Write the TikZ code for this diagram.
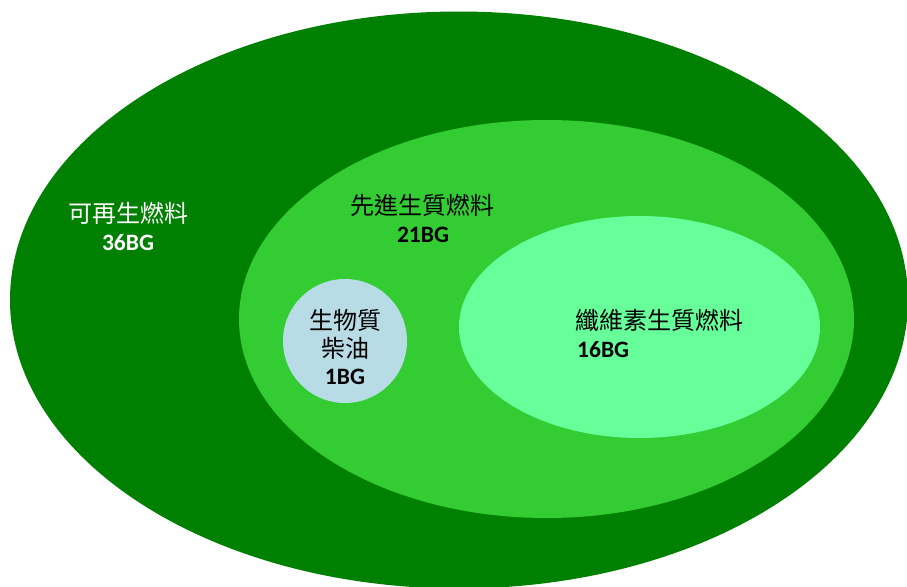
\documentclass[tikz,border=0pt]{standalone}
\usepackage{fontspec}
\usetikzlibrary{shapes.geometric}
\newfontfamily\cjk{Noto Sans CJK TC}
\newfontfamily\numf{Carlito}
\definecolor{darkg}{HTML}{008000}
\definecolor{midg}{HTML}{33CC33}
\definecolor{lightg}{HTML}{66FF99}
\definecolor{lblue}{HTML}{B8DCE6}
\tikzset{
  blob/.style={ellipse, inner sep=0pt, draw=none},
  cjklbl/.style={font=\cjk\fontsize{24}{28}\selectfont, inner sep=0pt},
  numlbl/.style={font=\numf\bfseries\fontsize{23.5}{26}\selectfont, inner sep=0pt},
}
\begin{document}
\begin{tikzpicture}[x=1pt,y=-1pt]
\useasboundingbox (0,0) rectangle (907,586);
\clip (0,0) rectangle (907,586);
\node[blob, fill=darkg, minimum width=898pt, minimum height=577pt] (outer) at (459,300) {};
\node[blob, fill=midg, minimum width=615pt, minimum height=398pt] (mid) at (546.5,319) {};
\node[blob, fill=lightg, minimum width=361pt, minimum height=222pt] (cell) at (639.5,327) {};
\node[blob, fill=lblue, minimum width=124pt, minimum height=124pt] (bio) at (345,341) {};

\node[cjklbl, text=white] (t1) at (128,213) {可再生燃料};
\node[numlbl, text=white] (n1) at (128,243) {36BG};
\node[cjklbl, text=black] (t2) at (422,205) {先進生質燃料};
\node[numlbl, text=black] (n2) at (423,235) {21BG};
\node[cjklbl, text=black] (t3a) at (345,320) {生物質};
\node[cjklbl, text=black] (t3b) at (345,348) {柴油};
\node[numlbl, text=black] (n3) at (345,377) {1BG};
\node[cjklbl, text=black, anchor=west] (t4) at (575,320) {纖維素生質燃料};
\node[numlbl, text=black, anchor=west] (n4) at (577,350) {16BG};
\end{tikzpicture}
\end{document}
